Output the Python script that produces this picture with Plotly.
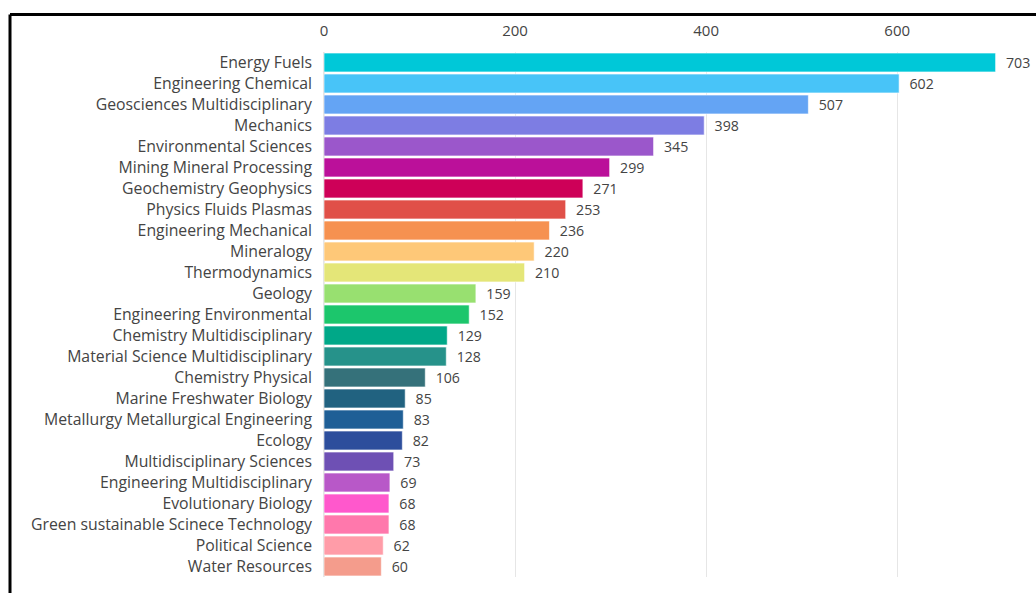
import plotly.graph_objects as go

categories = [
    "Energy Fuels", "Engineering Chemical", "Geosciences Multidisciplinary", "Mechanics",
    "Environmental Sciences", "Mining Mineral Processing", "Geochemistry Geophysics",
    "Physics Fluids Plasmas", "Engineering Mechanical", "Mineralogy", "Thermodynamics",
    "Geology", "Engineering Environmental", "Chemistry Multidisciplinary",
    "Material Science Multidisciplinary", "Chemistry Physical", "Marine Freshwater Biology",
    "Metallurgy Metallurgical Engineering", "Ecology", "Multidisciplinary Sciences",
    "Engineering Multidisciplinary", "Evolutionary Biology",
    "Green sustainable Scinece Technology", "Political Science", "Water Resources",
]
values = [703, 602, 507, 398, 345, 299, 271, 253, 236, 220, 210, 159, 152, 129, 128,
          106, 85, 83, 82, 73, 69, 68, 68, 62, 60]
colors = [
    "#00C8D8", "#48C4F8", "#64A4F4", "#7D7DE3", "#9B57CB", "#BB109A", "#CE0058",
    "#E05048", "#F69150", "#FEC878", "#E4E678", "#98E070", "#1CC66C", "#00A888",
    "#26928A", "#35717A", "#216280", "#1F5F96", "#2D4E9C", "#6E50B4", "#B858C8",
    "#FF58CC", "#FF78AC", "#FF9CA8", "#F49C8C",
]
x_ticks = [0, 200, 400, 600]

fig = go.Figure(go.Bar(
    x=values, y=categories, orientation="h",
    marker=dict(color=colors, line=dict(color="rgba(255,255,255,0.6)", width=1)),
    text=["\u00a0\u00a0" + str(v) for v in values], textposition="outside",
    textfont=dict(size=15, color="#444"), cliponaxis=False, width=0.9,
))

W, H = 1036, 593
L, R, T, B = 324, 6, 52, 16
pw, ph = W - L - R, H - T - B

fig.update_layout(
    width=W, height=H,
    margin=dict(l=L, r=R, t=T, b=B),
    paper_bgcolor="white", plot_bgcolor="white",
    font=dict(family="Open Sans", size=15, color="#444"),
    showlegend=False,
    xaxis=dict(side="top", range=[0, 739], tickvals=x_ticks, showgrid=True,
               gridcolor="#e6e6e6", zeroline=True, zerolinecolor="#e6e6e6",
               ticklabelstandoff=12, tickfont=dict(size=15, color="#444")),
    yaxis=dict(categoryorder="array", categoryarray=categories, autorange="reversed",
               ticklabelstandoff=11, tickfont=dict(size=15.8, color="#444")),
)

# frame of the original screenshot (top and left edges visible)
x_left = (10 - L) / pw
y_top = (H - B - 14.5) / ph
fig.add_shape(type="line", xref="paper", yref="paper", x0=x_left, x1=1.2, y0=y_top, y1=y_top,
              line=dict(color="black", width=3))
fig.add_shape(type="line", xref="paper", yref="paper", x0=x_left, x1=x_left, y0=y_top, y1=-0.2,
              line=dict(color="black", width=3))

fig.write_html("out.html")
